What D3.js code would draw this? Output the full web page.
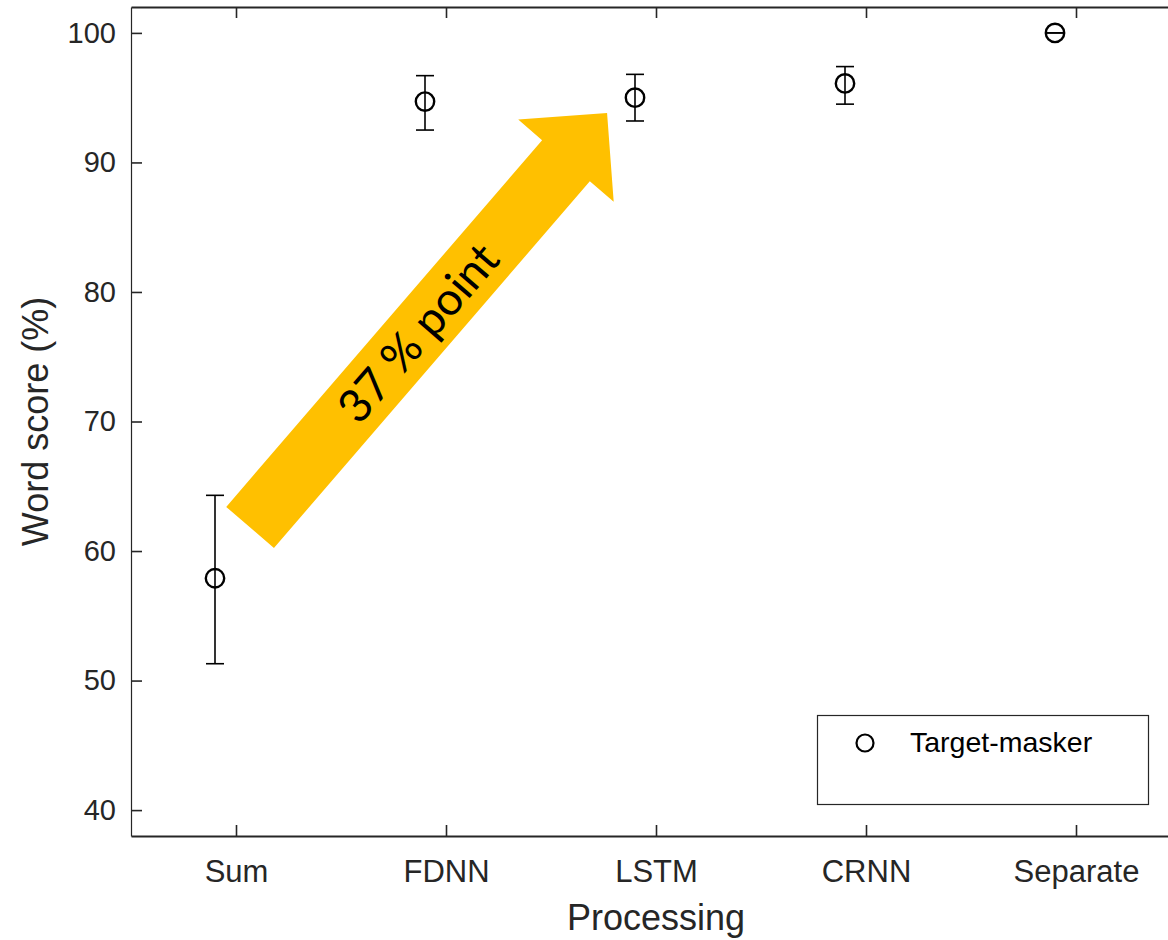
<!DOCTYPE html>
<html>
<head>
<meta charset="utf-8">
<script src="https://cdn.jsdelivr.net/npm/d3@7"></script>
<style>
  html, body { margin: 0; padding: 0; background: #fff; }
  svg { display: block; }
  .tick text { font-family: "Liberation Sans", Arial, sans-serif; fill: #262626; }
</style>
</head>
<body>
<svg id="chart" width="1168" height="940"></svg>
<script>
// Word scores per processing condition (mean with error-bar bounds)
const categories = ["Sum", "FDNN", "LSTM", "CRNN", "Separate"];
const means      = [57.9, 94.7, 95.0, 96.1, 100];
const upper      = [64.3, 96.7, 96.8, 97.4, 100];
const lower      = [51.3, 92.5, 93.2, 94.5, 100];
const yTicks     = [40, 50, 60, 70, 80, 90, 100];
const seriesName = "Target-masker";

// Annotation arrow, anchored in data units
const arrowTail  = { x: 1.067, y: 61.82 };
const arrowTip   = { x: 2.767, y: 93.82 };
const arrowLabel = "37 % point";

const svg = d3.select("#chart");
const plotLeft = 131, plotRight = 1181, plotTop = 7, plotBottom = 836;
const ink = "#262626";

const x = d3.scaleLinear().domain([0.5, categories.length + 0.5]).range([plotLeft, plotRight]);
const y = d3.scaleLinear().domain([38, 102]).range([plotBottom, plotTop]);
const offset = -0.1; // markers sit slightly left of their category tick

// Axes with inward ticks
const xAxis = d3.axisBottom(x)
  .tickValues(categories.map((_, i) => i + 1))
  .tickFormat((d) => categories[d - 1])
  .tickSize(-11).tickSizeOuter(0).tickPadding(24);
const gx = svg.append("g").attr("transform", `translate(0,${plotBottom})`).call(xAxis);
gx.selectAll("text").attr("font-size", 31);

const xTop = d3.axisTop(x)
  .tickValues(categories.map((_, i) => i + 1))
  .tickFormat("").tickSize(-11).tickSizeOuter(0);
const gxt = svg.append("g").attr("transform", `translate(0,${plotTop})`).call(xTop);

const yAxis = d3.axisLeft(y).tickValues(yTicks).tickSize(-11).tickSizeOuter(0).tickPadding(15);
const gy = svg.append("g").attr("transform", `translate(${plotLeft},0)`).call(yAxis);
gy.selectAll("text").attr("font-size", 29);

const yRight = d3.axisRight(y).tickValues(yTicks).tickFormat("").tickSize(-11).tickSizeOuter(0);
svg.append("g").attr("transform", `translate(${plotRight},0)`).call(yRight);

svg.selectAll(".domain").attr("stroke", ink).attr("stroke-width", 1.8);
svg.selectAll(".tick line").attr("stroke", ink).attr("stroke-width", 1.6);
gy.select(".domain").attr("stroke-width", 1.2);
gxt.select(".domain").attr("stroke-width", 2.2);

// Axis titles
svg.append("text")
  .attr("x", x(3)).attr("y", 930)
  .attr("text-anchor", "middle")
  .attr("font-family", "Liberation Sans, Arial, sans-serif")
  .attr("font-size", 36).attr("fill", ink)
  .text("Processing");

svg.append("text")
  .attr("transform", `translate(48,${(plotTop + plotBottom) / 2}) rotate(-90)`)
  .attr("text-anchor", "middle")
  .attr("font-family", "Liberation Sans, Arial, sans-serif")
  .attr("font-size", 36).attr("fill", ink)
  .text("Word score (%)");

// Block arrow annotation
(function drawArrow() {
  const tx = x(arrowTail.x), ty = y(arrowTail.y);
  const hx = x(arrowTip.x), hy = y(arrowTip.y);
  const len = Math.hypot(hx - tx, hy - ty);
  const ux = (hx - tx) / len, uy = (hy - ty) / len;
  const nx = -uy, ny = ux;
  const shaftHalf = 31.5, headHalf = 63, headLen = 63;
  const bx = hx - headLen * ux, by = hy - headLen * uy;
  const pts = [
    [tx + shaftHalf * nx, ty + shaftHalf * ny],
    [bx + shaftHalf * nx, by + shaftHalf * ny],
    [bx + headHalf * nx, by + headHalf * ny],
    [hx, hy],
    [bx - headHalf * nx, by - headHalf * ny],
    [bx - shaftHalf * nx, by - shaftHalf * ny],
    [tx - shaftHalf * nx, ty - shaftHalf * ny]
  ];
  svg.append("polygon")
    .attr("points", pts.map((p) => p.join(",")).join(" "))
    .attr("fill", "#FFC000");

  const angle = Math.atan2(uy, ux) * 180 / Math.PI;
  const cx = tx + 257 * ux, cy = ty + 257 * uy;
  svg.append("text")
    .attr("transform", `translate(${cx},${cy}) rotate(${angle})`)
    .attr("text-anchor", "middle")
    .attr("dy", "0.36em")
    .attr("font-family", "Lato, 'Open Sans', sans-serif")
    .attr("font-size", 46).attr("fill", "#000")
    .text(arrowLabel);
})();

// Error bars and markers
const data = categories.map((c, i) => ({
  cat: c, px: x(i + 1 + offset), mean: means[i], hi: upper[i], lo: lower[i]
}));
const capHalf = 9;
const g = svg.append("g").attr("stroke", "#000").attr("fill", "none");
g.selectAll("line.bar").data(data).join("line").attr("class", "bar")
  .attr("x1", (d) => d.px).attr("x2", (d) => d.px)
  .attr("y1", (d) => y(d.lo)).attr("y2", (d) => y(d.hi))
  .attr("stroke-width", 1.6);
g.selectAll("line.capHi").data(data).join("line").attr("class", "capHi")
  .attr("x1", (d) => d.px - capHalf).attr("x2", (d) => d.px + capHalf)
  .attr("y1", (d) => y(d.hi)).attr("y2", (d) => y(d.hi))
  .attr("stroke-width", 1.6);
g.selectAll("line.capLo").data(data).join("line").attr("class", "capLo")
  .attr("x1", (d) => d.px - capHalf).attr("x2", (d) => d.px + capHalf)
  .attr("y1", (d) => y(d.lo)).attr("y2", (d) => y(d.lo))
  .attr("stroke-width", 1.6);
g.selectAll("circle").data(data).join("circle")
  .attr("cx", (d) => d.px).attr("cy", (d) => y(d.mean))
  .attr("r", 9.2).attr("stroke-width", 2.4);

// Legend
const lg = svg.append("g");
lg.append("rect")
  .attr("x", 817.5).attr("y", 715.5).attr("width", 331).attr("height", 89)
  .attr("fill", "#fff").attr("stroke", ink).attr("stroke-width", 1.2);
lg.append("circle")
  .attr("cx", 865).attr("cy", 743).attr("r", 8.5)
  .attr("fill", "none").attr("stroke", "#000").attr("stroke-width", 2.2);
lg.append("text")
  .attr("x", 910).attr("y", 752)
  .attr("font-family", "Liberation Sans, Arial, sans-serif")
  .attr("font-size", 28.5).attr("fill", "#000")
  .text(seriesName);
</script>
</body>
</html>
